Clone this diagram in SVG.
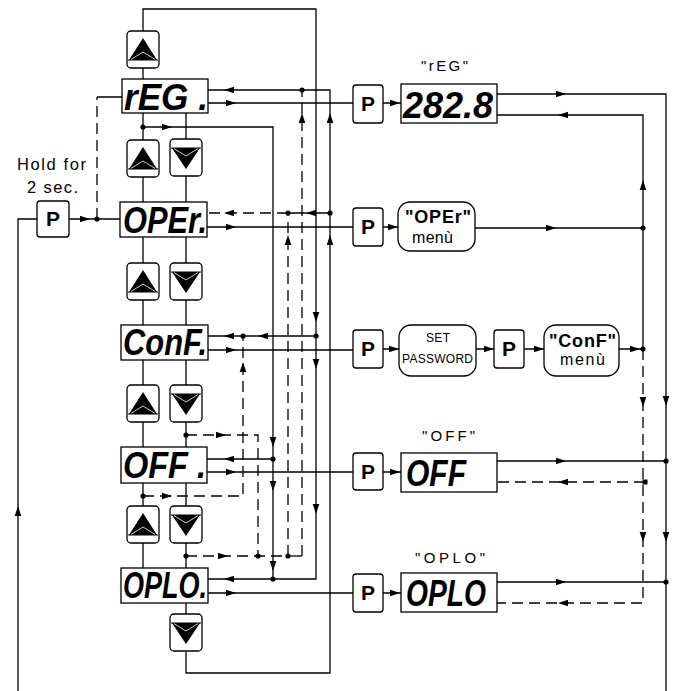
<svg xmlns="http://www.w3.org/2000/svg" width="674" height="691" viewBox="0 0 674 691">
<defs>
<style>
.l{stroke:#000;stroke-width:1.3;fill:none}
.d{stroke:#000;stroke-width:1.3;fill:none;stroke-dasharray:11 6}
.b{fill:#fff;stroke:#000;stroke-width:1.3}
.t{font-family:"Liberation Sans",Arial,sans-serif;fill:#000}
.m{font-family:"Liberation Sans",Arial,sans-serif;font-weight:bold;fill:#000}
.s{font-family:"Liberation Sans",Arial,sans-serif;font-weight:bold;font-style:italic;fill:#000}
.p{font-family:"Liberation Sans",Arial,sans-serif;font-weight:bold;font-size:21px;text-anchor:middle;fill:#000}
</style>
<path id="a" d="M0,0 L-10,-3.3 L-10,3.3 Z" fill="#000"/>
<circle id="o" r="2.6" fill="#000"/>
<g id="up">
<rect x="0" y="0" width="32" height="37" rx="4" class="b"/>
<path d="M16,7 L30,29 L2,29 Z" fill="#000"/>
<line x1="1" y1="29" x2="31" y2="29" stroke="#000" stroke-width="1"/>
<path d="M4,28.4 L16,21 L28,28.4" stroke="#fff" stroke-width="0.8" fill="none"/>
</g>
<g id="dn">
<rect x="0" y="0" width="32" height="37" rx="4" class="b"/>
<path d="M2,9 L30,9 L16,30 Z" fill="#000"/>
<line x1="1" y1="9" x2="31" y2="9" stroke="#000" stroke-width="1"/>
<path d="M4,9.6 L16,17 L28,9.6" stroke="#fff" stroke-width="0.8" fill="none"/>
</g>
</defs>
<rect width="674" height="691" fill="#fff"/>

<g id="connectors">
<path class="l" d="M143,31 V9 H316 V579 H208"/>
<path class="l" d="M143,127 H273 V579"/>
<path class="l" d="M273,459 H207"/>
<path class="l" d="M186,652 V673 H330 V90 H208"/>
<path class="l" d="M330,213 H288"/>
<path class="l" d="M316,336 H208"/>
<path class="l" d="M208,103 H353 M383,103 H401"/>
<path class="l" d="M207,227 H353 M383,227 H398"/>
<path class="l" d="M208,350 H353 M383,349 H399 M476,349 H494 M524,349 H544 M619,349 H643"/>
<path class="l" d="M207,472 H353 M383,472 H401"/>
<path class="l" d="M208,593 H353 M383,593 H401"/>
<path class="l" d="M143,68 V79 M143,113 V140 M143,177 V202 M143,237 V263 M143,300 V325 M143,360 V385 M143,422 V447 M143,483 V506 M143,543 V568"/>
<path class="l" d="M186,113 V139 M186,176 V202 M186,237 V263 M186,300 V325 M186,360 V385 M186,422 V447 M186,483 V506 M186,543 V568 M186,603 V614"/>
<path class="l" d="M18,691 V219 H37 M69,219 H120 M97,97 H122"/>
<path class="l" d="M497,94 H666 V691 M643,349 V115 H497 M475,228 H643 M497,461 H666 M497,582 H666"/>
<path class="l" d="M288,556 H302"/>
<path class="d" d="M97,219 V97"/>
<path class="d" d="M288,213 H207"/>
<path class="d" d="M186,435 H258 V556"/>
<path class="d" d="M143,496 H243 V336"/>
<path class="d" d="M186,556 H288"/>
<path class="d" d="M302,556 V90"/>
<path class="d" d="M288,556 V213"/>
<path class="d" d="M643,349 V603 H497"/>
<path class="d" d="M645,482 H497"/>

<use href="#a" transform="translate(90,219)"/>
<use href="#a" transform="translate(172,127)"/>
<use href="#a" transform="translate(236,103)"/>
<use href="#a" transform="translate(400,103)"/>
<use href="#a" transform="translate(236,227)"/>
<use href="#a" transform="translate(398,227)"/>
<use href="#a" transform="translate(236,350)"/>
<use href="#a" transform="translate(399,349)"/>
<use href="#a" transform="translate(494,349)"/>
<use href="#a" transform="translate(544,349)"/>
<use href="#a" transform="translate(640,349)"/>
<use href="#a" transform="translate(236,472)"/>
<use href="#a" transform="translate(400,472)"/>
<use href="#a" transform="translate(236,593)"/>
<use href="#a" transform="translate(400,593)"/>
<use href="#a" transform="translate(226,435)"/>
<use href="#a" transform="translate(172,496)"/>
<use href="#a" transform="translate(228,556)"/>
<use href="#a" transform="translate(566,94)"/>
<use href="#a" transform="translate(556,228)"/>
<use href="#a" transform="translate(566,461)"/>
<use href="#a" transform="translate(566,582)"/>

<use href="#a" transform="translate(224,90) rotate(180)"/>
<use href="#a" transform="translate(224,213) rotate(180)"/>
<use href="#a" transform="translate(306,213) rotate(180)"/>
<use href="#a" transform="translate(224,336) rotate(180)"/>
<use href="#a" transform="translate(258,336) rotate(180)"/>
<use href="#a" transform="translate(224,459) rotate(180)"/>
<use href="#a" transform="translate(224,579) rotate(180)"/>
<use href="#a" transform="translate(558,115) rotate(180)"/>
<use href="#a" transform="translate(558,482) rotate(180)"/>
<use href="#a" transform="translate(558,603) rotate(180)"/>

<use href="#a" transform="translate(302,113) rotate(-90)"/>
<use href="#a" transform="translate(330,113) rotate(-90)"/>
<use href="#a" transform="translate(288,235) rotate(-90)"/>
<use href="#a" transform="translate(330,235) rotate(-90)"/>
<use href="#a" transform="translate(243,362) rotate(-90)"/>
<use href="#a" transform="translate(18,506) rotate(-90)"/>
<use href="#a" transform="translate(643,180) rotate(-90)"/>

<use href="#a" transform="translate(316,322) rotate(90)"/>
<use href="#a" transform="translate(316,369) rotate(90)"/>
<use href="#a" transform="translate(273,447) rotate(90)"/>
<use href="#a" transform="translate(273,491) rotate(90)"/>
<use href="#a" transform="translate(316,514) rotate(90)"/>
<use href="#a" transform="translate(273,571) rotate(90)"/>
<use href="#a" transform="translate(643,407) rotate(90)"/>
<use href="#a" transform="translate(643,542) rotate(90)"/>
<use href="#a" transform="translate(666,406) rotate(90)"/>
<use href="#a" transform="translate(666,542) rotate(90)"/>

<use href="#o" x="97" y="219"/>
<use href="#o" x="143" y="127"/>
<use href="#o" x="302" y="90"/>
<use href="#o" x="330" y="213"/>
<use href="#o" x="288" y="213"/>
<use href="#o" x="243" y="336"/>
<use href="#o" x="316" y="336"/>
<use href="#o" x="186" y="435"/>
<use href="#o" x="273" y="459"/>
<use href="#o" x="143" y="496"/>
<use href="#o" x="186" y="556"/>
<use href="#o" x="258" y="556"/>
<use href="#o" x="288" y="556"/>
<use href="#o" x="273" y="579"/>
<use href="#o" x="643" y="228"/>
<use href="#o" x="643" y="349"/>
<use href="#o" x="666" y="461"/>
<use href="#o" x="666" y="582"/>
<rect x="642.5" y="479.5" width="5" height="5" fill="#000"/>
</g>

<g id="label-hold">
<text class="t" x="17" y="170" font-size="16.5" textLength="69">Hold for</text>
<text class="t" x="27" y="193" font-size="16.5" textLength="51">2 sec.</text>
</g>
<g id="p-hold"><rect x="37" y="201" width="32" height="36" rx="3" class="b"/><text class="p" x="53" y="226">P</text></g>

<g id="btn-up-top"><use href="#up" x="127" y="31"/></g>
<g id="disp-reg"><rect x="122" y="79" width="86" height="34" class="b"/><text class="s" x="124" y="110" font-size="36" textLength="84" lengthAdjust="spacingAndGlyphs">rEG .</text></g>
<g id="btn-up-1"><use href="#up" x="127" y="140"/></g>
<g id="btn-dn-1"><use href="#dn" x="170" y="139"/></g>
<g id="disp-oper"><rect x="120" y="202" width="87" height="35" class="b"/><text class="s" x="123" y="233" font-size="36" textLength="84" lengthAdjust="spacingAndGlyphs">OPEr.</text></g>
<g id="btn-up-2"><use href="#up" x="127" y="263"/></g>
<g id="btn-dn-2"><use href="#dn" x="170" y="263"/></g>
<g id="disp-conf"><rect x="121" y="325" width="87" height="35" class="b"/><text class="s" x="123" y="355" font-size="36" textLength="84" lengthAdjust="spacingAndGlyphs">ConF.</text></g>
<g id="btn-up-3"><use href="#up" x="127" y="385"/></g>
<g id="btn-dn-3"><use href="#dn" x="170" y="385"/></g>
<g id="disp-off"><rect x="121" y="447" width="86" height="36" class="b"/><text class="s" x="123" y="478" font-size="36" textLength="83" lengthAdjust="spacingAndGlyphs">OFF .</text></g>
<g id="btn-up-4"><use href="#up" x="127" y="506"/></g>
<g id="btn-dn-4"><use href="#dn" x="170" y="506"/></g>
<g id="disp-oplo"><rect x="121" y="568" width="87" height="35" class="b"/><text class="s" x="123" y="598" font-size="36" textLength="84" lengthAdjust="spacingAndGlyphs">OPLO.</text></g>
<g id="btn-dn-5"><use href="#dn" x="170" y="614"/></g>

<g id="row-reg">
<text class="t" x="421" y="71" font-size="15" textLength="47">"rEG"</text>
<rect x="353" y="85" width="30" height="38" rx="3" class="b"/><text class="p" x="368" y="111">P</text>
<rect x="401" y="84" width="96" height="39" class="b"/><text class="s" x="403" y="118" font-size="37" textLength="90" lengthAdjust="spacingAndGlyphs">282.8</text>
</g>
<g id="row-oper">
<rect x="353" y="208" width="30" height="38" rx="3" class="b"/><text class="p" x="368" y="234">P</text>
<rect x="398" y="202" width="77" height="49" rx="12" class="b"/>
<text class="m" x="405" y="223" font-size="18" textLength="66">"OPEr"</text>
<text class="t" x="412" y="243" font-size="16" textLength="41">menù</text>
</g>
<g id="row-conf">
<rect x="353" y="330" width="30" height="38" rx="3" class="b"/><text class="p" x="368" y="356">P</text>
<rect x="399" y="325" width="77" height="51" rx="12" class="b"/>
<text class="t" x="426" y="342" font-size="12" textLength="24">SET</text>
<text class="t" x="402" y="363" font-size="12" textLength="71">PASSWORD</text>
<rect x="494" y="330" width="30" height="38" rx="3" class="b"/><text class="p" x="509" y="356">P</text>
<rect x="544" y="325" width="75" height="51" rx="12" class="b"/>
<text class="m" x="549" y="347" font-size="18" textLength="67">"ConF"</text>
<text class="t" x="560" y="365" font-size="16" textLength="45">menù</text>
</g>
<g id="row-off">
<text class="t" x="422" y="441" font-size="15" textLength="53">"OFF"</text>
<rect x="353" y="453" width="30" height="37" rx="3" class="b"/><text class="p" x="368" y="479">P</text>
<rect x="401" y="453" width="96" height="39" class="b"/><text class="s" x="406" y="486" font-size="36" textLength="60" lengthAdjust="spacingAndGlyphs">OFF</text>
</g>
<g id="row-oplo">
<text class="t" x="415" y="563" font-size="15" textLength="70">"OPLO"</text>
<rect x="353" y="574" width="30" height="38" rx="3" class="b"/><text class="p" x="368" y="600">P</text>
<rect x="401" y="573" width="96" height="39" class="b"/><text class="s" x="406" y="606" font-size="36" textLength="80" lengthAdjust="spacingAndGlyphs">OPLO</text>
</g>
</svg>
